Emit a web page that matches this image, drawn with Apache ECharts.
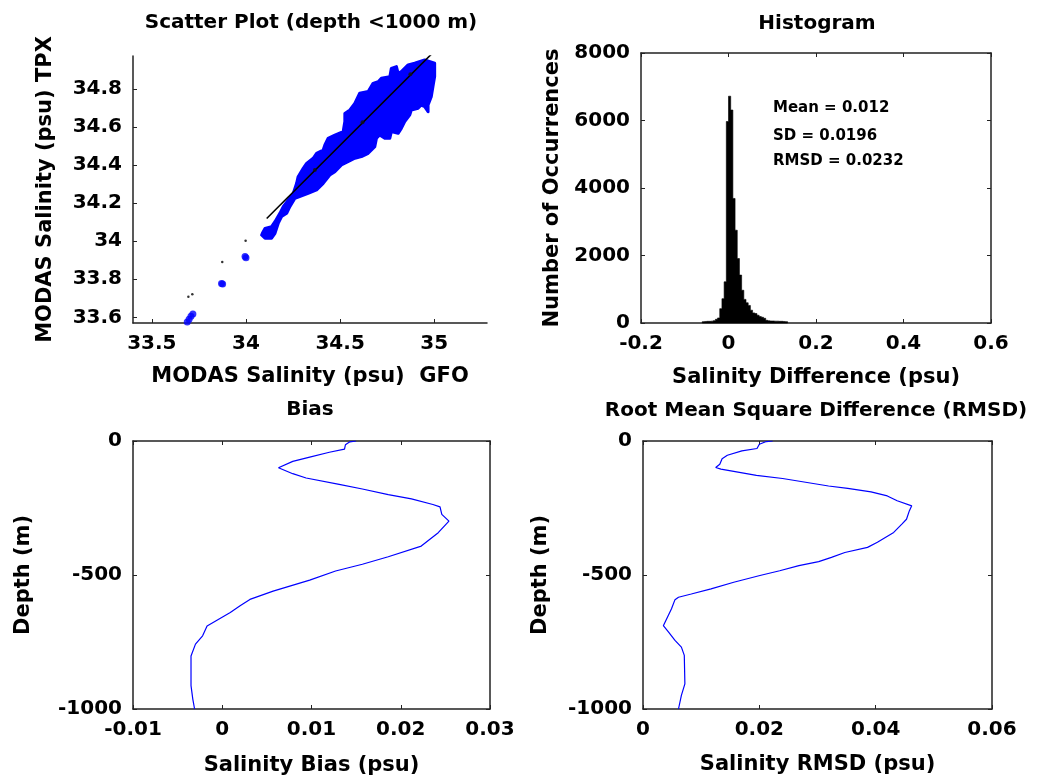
<!DOCTYPE html>
<html>
<head>
<meta charset="utf-8">
<script src="https://cdn.jsdelivr.net/npm/echarts@6/dist/echarts.min.js"></script>
<style>
html,body{margin:0;padding:0;background:#fff;}
#chart{width:1058px;height:782px;}
</style>
</head>
<body>
<div id="chart"></div>
<script>
// ---------- Titles / labels ----------
const titles = ['Scatter Plot (depth <1000 m)', 'Histogram', 'Bias', 'Root Mean Square Difference (RMSD)'];
const statsText = ['Mean = 0.012', 'SD = 0.0196', 'RMSD = 0.0232'];

// ---------- Scatter plot ----------
const scatterXTicks = [33.5, 34, 34.5, 35];
const scatterYTicks = [33.6, 33.8, 34, 34.2, 34.4, 34.6, 34.8];
// outline of the dense blue cloud of points (GFO, TPX)
const cloudX = [34.087,34.101,34.136,34.154,34.180,34.198,34.224,34.251,34.269,34.277,34.304,34.322,34.357,34.375,34.410,34.419,34.436,34.472,34.516,34.525,34.525,34.552,34.578,34.604,34.649,34.675,34.702,34.719,34.764,34.772,34.799,34.808,34.825,34.861,34.896,34.949,35.002,35.002,34.993,34.984,34.967,34.967,34.949,34.931,34.914,34.878,34.870,34.843,34.825,34.808,34.772,34.764,34.737,34.710,34.693,34.684,34.649,34.613,34.578,34.560,34.507,34.472,34.445,34.410,34.375,34.330,34.260,34.233,34.216,34.189,34.171,34.154,34.136,34.101,34.083];
const cloudY = [34.042,34.068,34.077,34.103,34.147,34.182,34.217,34.252,34.305,34.340,34.384,34.410,34.437,34.463,34.480,34.507,34.542,34.559,34.577,34.630,34.673,34.691,34.726,34.779,34.788,34.831,34.840,34.858,34.866,34.910,34.919,34.884,34.893,34.928,34.937,34.954,34.937,34.867,34.814,34.761,34.717,34.682,34.709,34.717,34.700,34.691,34.665,34.630,34.594,34.568,34.577,34.542,34.542,34.559,34.542,34.498,34.463,34.446,34.437,34.428,34.402,34.366,34.349,34.305,34.270,34.252,34.226,34.182,34.147,34.130,34.094,34.042,34.016,34.016,34.033];
const blueBlobX = [33.688, 33.698, 33.708, 33.718, 33.876, 33.870, 34.000, 33.995];
const blueBlobY = [33.575, 33.590, 33.605, 33.618, 33.775, 33.778, 33.914, 33.920];
const blackDotX = [33.998, 33.874, 33.694, 33.715];
const blackDotY = [34.003, 33.891, 33.708, 33.721];
const fitLineX = [34.11, 34.985];
const fitLineY = [34.12, 34.985];
const lineMarkX = [34.366, 34.619, 34.873];
const lineMarkY = [34.375, 34.626, 34.879];

// ---------- Histogram ----------
const binWidth = 0.005;
const binLeft = [-0.060,-0.055,-0.050,-0.045,-0.040,-0.035,-0.030,-0.025,-0.020,-0.015,-0.010,-0.005,0.000,0.005,0.010,0.015,0.020,0.025,0.030,0.035,0.040,0.045,0.050,0.055,0.060,0.065,0.070,0.075,0.080,0.085,0.090,0.095,0.100,0.105,0.110,0.115,0.120,0.125,0.130];
const binCount = [40,45,50,50,55,70,110,150,425,720,1220,5970,6720,6310,3690,2750,1910,1420,970,700,600,520,380,300,280,230,190,170,140,80,65,60,60,55,55,50,50,45,40];

// ---------- Bias profile ----------
const biasDepth = [0,-3,-14,-30,-42,-60,-76,-100,-122,-138,-162,-179,-200,-216,-237,-246,-274,-299,-342,-392,-432,-460,-485,-519,-560,-591,-615,-640,-665,-690,-727,-758,-802,-913,-963,-1000];
const biasVal = [0.0150,0.0143,0.0138,0.0137,0.0120,0.0098,0.0079,0.0063,0.0079,0.0094,0.0131,0.0157,0.0186,0.0212,0.0236,0.0244,0.0246,0.0254,0.0242,0.0223,0.0186,0.0157,0.0127,0.0098,0.0057,0.0031,0.0020,0.0009,-0.0004,-0.0017,-0.0022,-0.0030,-0.0035,-0.0035,-0.0033,-0.0031];

// ---------- RMSD profile ----------
const rmsdDepth = [0,-2,-12,-28,-37,-53,-66,-87,-99,-105,-128,-140,-168,-177,-190,-205,-223,-242,-260,-292,-310,-341,-378,-397,-416,-434,-450,-465,-484,-502,-527,-552,-571,-583,-592,-626,-689,-713,-744,-769,-800,-906,-949,-1000];
const rmsdVal = [0.0223,0.0212,0.0200,0.0196,0.0170,0.0145,0.0136,0.0132,0.0125,0.0134,0.0195,0.0240,0.0319,0.0352,0.0392,0.0420,0.0437,0.0462,0.0458,0.0453,0.0445,0.0431,0.0403,0.0386,0.0347,0.0324,0.0302,0.0268,0.0235,0.0201,0.0156,0.0117,0.0083,0.0061,0.0055,0.0049,0.0035,0.0044,0.0055,0.0066,0.0071,0.0072,0.0066,0.0061];

// ---------- Build chart ----------
const FONT = 'DejaVu Sans';
const AX = '#222';
const zip = (a, b) => a.map((v, i) => [v, b[i]]);
const fmt = v => String(Math.round(v * 10000) / 10000);

function lbl(extra) {
  return Object.assign({fontFamily: FONT, fontWeight: 'bold', fontSize: 20, color: '#000', margin: 11, formatter: fmt}, extra || {});
}
function nameStyle() {
  return {fontFamily: FONT, fontWeight: 'bold', fontSize: 21, color: '#000'};
}
function mainAxis(o) {
  return Object.assign({
    type: 'value',
    axisLine: {show: true, onZero: false, lineStyle: {color: AX, width: 1.5}},
    axisTick: {show: true, inside: true, length: 4, lineStyle: {color: AX}},
    axisLabel: lbl(),
    splitLine: {show: false},
    nameLocation: 'middle',
    nameTextStyle: nameStyle()
  }, o);
}
function mirrorAxis(o) {
  return Object.assign({
    type: 'value',
    axisLine: {show: true, onZero: false, lineStyle: {color: AX, width: 1.5}},
    axisTick: {show: true, inside: true, length: 4, lineStyle: {color: AX}},
    axisLabel: {show: false},
    splitLine: {show: false}
  }, o);
}

const chart = echarts.init(document.getElementById('chart'), null, {renderer: 'canvas'});

const option = {
  backgroundColor: '#fff',
  animation: false,
  grid: [
    {left: 133, top: 56, width: 354, height: 267, outerBoundsMode: 'none', containLabel: false},
    {left: 641, top: 53, width: 350, height: 270, outerBoundsMode: 'none', containLabel: false},
    {left: 133, top: 441, width: 357, height: 268, outerBoundsMode: 'none', containLabel: false},
    {left: 643, top: 441, width: 349, height: 268, outerBoundsMode: 'none', containLabel: false}
  ],
  xAxis: [
    mainAxis({gridIndex: 0, min: 33.4, max: 35.28,
      axisTick: {show: true, inside: true, length: 4, lineStyle: {color: AX}, customValues: scatterXTicks},
      axisLabel: lbl({customValues: scatterXTicks}),
      name: 'MODAS Salinity (psu)  GFO', nameGap: 43}),
    mainAxis({gridIndex: 1, min: -0.2, max: 0.6, interval: 0.2, name: 'Salinity Difference (psu)', nameGap: 44}),
    mainAxis({gridIndex: 2, min: -0.01, max: 0.03, interval: 0.01, name: 'Salinity Bias (psu)', nameGap: 46}),
    mainAxis({gridIndex: 3, min: 0, max: 0.06, interval: 0.02, name: 'Salinity RMSD (psu)', nameGap: 45}),
    mirrorAxis({gridIndex: 1, position: 'top', min: -0.2, max: 0.6, interval: 0.2}),
    mirrorAxis({gridIndex: 2, position: 'top', min: -0.01, max: 0.03, interval: 0.01}),
    mirrorAxis({gridIndex: 3, position: 'top', min: 0, max: 0.06, interval: 0.02})
  ],
  yAxis: [
    mainAxis({gridIndex: 0, min: 33.57, max: 34.975,
      axisTick: {show: true, inside: true, length: 4, lineStyle: {color: AX}, customValues: scatterYTicks},
      axisLabel: lbl({customValues: scatterYTicks}),
      name: 'MODAS Salinity (psu) TPX', nameGap: 77}),
    mainAxis({gridIndex: 1, min: 0, max: 8000, interval: 2000, name: 'Number of Occurrences', nameGap: 78}),
    mainAxis({gridIndex: 2, min: -1000, max: 0, interval: 500, name: 'Depth (m)', nameGap: 99}),
    mainAxis({gridIndex: 3, min: -1000, max: 0, interval: 500, name: 'Depth (m)', nameGap: 92}),
    mirrorAxis({gridIndex: 1, position: 'right', min: 0, max: 8000, interval: 2000}),
    mirrorAxis({gridIndex: 2, position: 'right', min: -1000, max: 0, interval: 500}),
    mirrorAxis({gridIndex: 3, position: 'right', min: -1000, max: 0, interval: 500})
  ],
  series: [
    {
      type: 'custom', xAxisIndex: 0, yAxisIndex: 0, z: 2,
      data: zip(cloudX, cloudY),
      renderItem: function (params, api) {
        if (params.dataIndex !== 0) return null;
        const pts = cloudX.map((x, i) => api.coord([x, cloudY[i]]));
        return {type: 'polygon', shape: {points: pts},
          style: {fill: '#0000ff', stroke: '#0000ff', lineWidth: 3, lineJoin: 'round'}};
      }
    },
    {type: 'scatter', xAxisIndex: 0, yAxisIndex: 0, z: 3, symbol: 'circle', symbolSize: 7,
      itemStyle: {color: '#0000ff'}, data: zip(blueBlobX, blueBlobY)},
    {type: 'scatter', xAxisIndex: 0, yAxisIndex: 0, z: 4, symbol: 'circle', symbolSize: 2.5,
      itemStyle: {color: '#000'}, data: zip(blackDotX, blackDotY)},
    {type: 'line', xAxisIndex: 0, yAxisIndex: 0, z: 5, symbol: 'none',
      lineStyle: {color: '#000', width: 1.6}, data: zip(fitLineX, fitLineY)},
    {type: 'scatter', xAxisIndex: 0, yAxisIndex: 0, z: 6, symbol: 'circle', symbolSize: 4,
      itemStyle: {color: '#111'}, data: zip(lineMarkX, lineMarkY)},
    {
      // histogram drawn as one step-shaped filled outline (no seams between bins)
      type: 'custom', xAxisIndex: 1, yAxisIndex: 1,
      encode: {x: [0, 1], y: 2},
      data: binLeft.map((b, i) => [b, b + binWidth, binCount[i]]),
      renderItem: function (params, api) {
        if (params.dataIndex !== 0) return null;
        const pts = [api.coord([binLeft[0], 0])];
        binLeft.forEach((b, i) => {
          pts.push(api.coord([b, binCount[i]]));
          pts.push(api.coord([b + binWidth, binCount[i]]));
        });
        pts.push(api.coord([binLeft[binLeft.length - 1] + binWidth, 0]));
        return {type: 'polygon', shape: {points: pts},
          style: {fill: '#000', stroke: '#000', lineWidth: 0.6}};
      }
    },
    {type: 'line', xAxisIndex: 2, yAxisIndex: 2, symbol: 'none',
      lineStyle: {color: '#0000ff', width: 1.2}, data: zip(biasVal, biasDepth)},
    {type: 'line', xAxisIndex: 3, yAxisIndex: 3, symbol: 'none',
      lineStyle: {color: '#0000ff', width: 1.2}, data: zip(rmsdVal, rmsdDepth)}
  ],
  graphic: [
    {type: 'text', x: 311, y: 23, style: {text: titles[0], font: 'bold 20px "DejaVu Sans"', fill: '#000', align: 'center', verticalAlign: 'middle', textAlign: 'center', textVerticalAlign: 'middle'}},
    {type: 'text', x: 817, y: 24, style: {text: titles[1], font: 'bold 20px "DejaVu Sans"', fill: '#000', align: 'center', verticalAlign: 'middle', textAlign: 'center', textVerticalAlign: 'middle'}},
    {type: 'text', x: 310, y: 410, style: {text: titles[2], font: 'bold 20px "DejaVu Sans"', fill: '#000', align: 'center', verticalAlign: 'middle', textAlign: 'center', textVerticalAlign: 'middle'}},
    {type: 'text', x: 816, y: 411, style: {text: titles[3], font: 'bold 20px "DejaVu Sans"', fill: '#000', align: 'center', verticalAlign: 'middle', textAlign: 'center', textVerticalAlign: 'middle'}},
    {type: 'text', x: 773, y: 108, style: {text: statsText[0], font: 'bold 15px "DejaVu Sans"', fill: '#000', align: 'left', verticalAlign: 'middle', textAlign: 'left', textVerticalAlign: 'middle'}},
    {type: 'text', x: 773, y: 136, style: {text: statsText[1], font: 'bold 15px "DejaVu Sans"', fill: '#000', align: 'left', verticalAlign: 'middle', textAlign: 'left', textVerticalAlign: 'middle'}},
    {type: 'text', x: 773, y: 161, style: {text: statsText[2], font: 'bold 15px "DejaVu Sans"', fill: '#000', align: 'left', verticalAlign: 'middle', textAlign: 'left', textVerticalAlign: 'middle'}}
  ]
};
chart.setOption(option);
</script>
</body>
</html>
